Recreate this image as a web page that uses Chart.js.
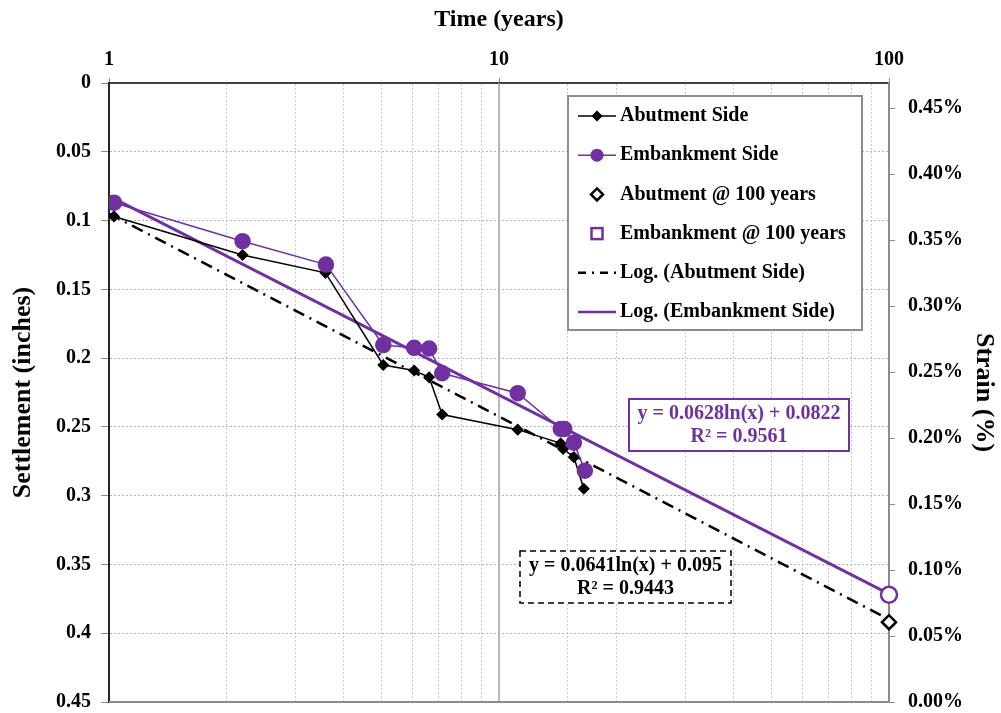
<!DOCTYPE html>
<html>
<head>
<meta charset="utf-8">
<script src="https://cdn.jsdelivr.net/npm/chart.js@4"></script>
<style>
  body { margin: 0; background: #fff; }
  #wrap { width: 1001px; height: 713px; }
</style>
</head>
<body>
<div id="wrap"><canvas id="settle" width="1001" height="713"></canvas></div>
<script>
// settlement vs time, log time axis on top
const abutYears = [1.03, 2.20, 3.59, 5.05, 6.06, 6.62, 7.15, 11.17, 14.4, 14.6, 15.56, 16.5];
const abutSettle = [0.097, 0.125, 0.138, 0.205, 0.209, 0.214, 0.241, 0.252, 0.262, 0.266, 0.272, 0.295];

const embYears = [1.03, 2.20, 3.60, 5.05, 6.06, 6.62, 7.15, 11.17, 14.4, 14.7, 15.56, 16.6];
const embSettle = [0.087, 0.115, 0.132, 0.1905, 0.1925, 0.193, 0.211, 0.2255, 0.2515, 0.2515, 0.2615, 0.2818];

const years100 = [100];
const abut100 = [0.392];
const emb100 = [0.372];

const trendYears = [1, 100];
const abutTrend = [0.095, 0.390];
const embTrend = [0.0822, 0.3714];

const strainTicks = [0, 0.05, 0.10, 0.15, 0.20, 0.25, 0.30, 0.35, 0.40, 0.45];
const timeLabels = [1, 10, 100];

const purple = '#7030A0';
const serif = 'Liberation Serif, Times New Roman, serif';

function pts(xs, ys) {
  return xs.map((x, i) => ({ x: x, y: ys[i] }));
}

const data = {
  datasets: [{
    label: 'Abutment Side',
    data: pts(abutYears, abutSettle),
    borderColor: '#000',
    backgroundColor: '#000',
    borderWidth: 1.5,
    pointStyle: 'rectRot',
    pointRadius: 5,
    order: 2
  }, {
    label: 'Embankment Side',
    data: pts(embYears, embSettle),
    borderColor: purple,
    backgroundColor: purple,
    borderWidth: 1.5,
    pointStyle: 'circle',
    pointRadius: 7.5,
    order: 1
  }, {
    label: 'Abutment @ 100 years',
    data: pts(years100, abut100),
    showLine: false,
    borderColor: '#000',
    backgroundColor: '#fff',
    pointStyle: 'rectRot',
    pointRadius: 7,
    pointBorderWidth: 2.5,
    clip: false,
    order: 0
  }, {
    label: 'Embankment @ 100 years',
    data: pts(years100, emb100),
    showLine: false,
    borderColor: purple,
    backgroundColor: '#fff',
    pointStyle: 'circle',
    pointRadius: 8,
    pointBorderWidth: 2.5,
    clip: false,
    order: 0
  }, {
    label: 'Log. (Abutment Side)',
    data: pts(trendYears, abutTrend),
    borderColor: '#000',
    borderWidth: 2.5,
    borderDash: [12, 6, 2, 6],
    pointRadius: 0,
    order: 4
  }, {
    label: 'Log. (Embankment Side)',
    data: pts(trendYears, embTrend),
    borderColor: purple,
    borderWidth: 3,
    pointRadius: 0,
    order: 3
  }]
};

// legend box + equation boxes + frame pieces
const extras = {
  id: 'extras',
  beforeDatasetsDraw(chart) {
    const ctx = chart.ctx, a = chart.chartArea;
    const x10 = chart.scales.x.getPixelForValue(10);
    ctx.save();
    ctx.strokeStyle = '#a6a6a6';
    ctx.lineWidth = 1.5;
    ctx.beginPath();
    ctx.moveTo(x10, a.top);
    ctx.lineTo(x10, a.bottom);
    ctx.stroke();
    // bottom edge of the plot
    ctx.strokeStyle = '#8c8c8c';
    ctx.lineWidth = 2;
    ctx.beginPath();
    ctx.moveTo(a.left, a.bottom);
    ctx.lineTo(a.right, a.bottom);
    ctx.stroke();
    ctx.restore();
  },
  afterDraw(chart) {
    const ctx = chart.ctx;
    ctx.save();
    // legend
    const lx = 568, ly = 96, lw = 294, lh = 234;
    ctx.fillStyle = '#fff';
    ctx.fillRect(lx, ly, lw, lh);
    ctx.strokeStyle = '#8c8c8c';
    ctx.lineWidth = 2;
    ctx.strokeRect(lx, ly, lw, lh);
    ctx.font = 'bold 20px ' + serif;
    ctx.textBaseline = 'middle';
    ctx.textAlign = 'left';
    chart.data.datasets.forEach((ds, i) => {
      const y = 116 + i * 39.2;
      const sx0 = 578, sx1 = 616, mx = 597;
      ctx.save();
      if (i === 0 || i === 1 || i === 4 || i === 5) {
        ctx.strokeStyle = ds.borderColor;
        ctx.lineWidth = (i === 4 || i === 5) ? 2.5 : 1.5;
        ctx.setLineDash(i === 4 ? [8, 6, 2, 6] : []);
        ctx.beginPath();
        ctx.moveTo(sx0, y);
        ctx.lineTo(sx1, y);
        ctx.stroke();
      }
      ctx.setLineDash([]);
      if (i === 0) {
        Chart.helpers.drawPoint(ctx, { pointStyle: 'rectRot', radius: 4.5, borderWidth: 1 }, mx, y);
        ctx.fillStyle = '#000';
        ctx.fill();
      } else if (i === 1) {
        ctx.fillStyle = purple;
        ctx.beginPath();
        ctx.arc(mx, y, 6.5, 0, Math.PI * 2);
        ctx.fill();
      } else if (i === 2) {
        ctx.strokeStyle = '#000';
        ctx.lineWidth = 2.5;
        ctx.beginPath();
        ctx.moveTo(mx, y - 6); ctx.lineTo(mx + 6, y); ctx.lineTo(mx, y + 6); ctx.lineTo(mx - 6, y);
        ctx.closePath();
        ctx.stroke();
      } else if (i === 3) {
        ctx.strokeStyle = purple;
        ctx.lineWidth = 2.5;
        ctx.strokeRect(mx - 5.5, y - 5.5, 11, 11);
      }
      ctx.restore();
      ctx.fillStyle = '#000';
      ctx.fillText(ds.label, 620, y);
    });

    // trend equation, embankment
    ctx.fillStyle = '#fff';
    ctx.fillRect(629, 399, 220, 52);
    ctx.strokeStyle = purple;
    ctx.lineWidth = 2;
    ctx.strokeRect(629, 399, 220, 52);
    ctx.fillStyle = purple;
    ctx.textAlign = 'center';
    ctx.fillText('y = 0.0628ln(x) + 0.0822', 739, 414);
    ctx.fillText('R\u00B2 = 0.9561', 739, 437);

    // trend equation, abutment
    ctx.fillStyle = '#fff';
    ctx.fillRect(520, 551, 211, 52);
    ctx.strokeStyle = '#000';
    ctx.lineWidth = 1.5;
    ctx.setLineDash([6, 4]);
    ctx.strokeRect(520, 551, 211, 52);
    ctx.setLineDash([]);
    ctx.fillStyle = '#000';
    ctx.fillText('y = 0.0641ln(x) + 0.095', 625.5, 566);
    ctx.fillText('R\u00B2 = 0.9443', 625.5, 589);
    ctx.restore();
  }
};

const tickFont = { family: serif, size: 20, weight: 'bold' };
const titleFont = { family: serif, size: 24, weight: 'bold' };
const sideTitleFont = { family: serif, size: 26, weight: 'bold' };

// keep the plot box fixed: no extra room for half tick labels
function fitSide(w) {
  return (s) => {
    s.width = w;
    s.paddingTop = 0;
    s.paddingBottom = 0;
  };
}

const config = {
  type: 'line',
  data,
  options: {
    responsive: false,
    animation: false,
    layout: { padding: { top: 0, left: 0, right: 0, bottom: 11 } },
    plugins: {
      legend: { display: false },
      tooltip: { enabled: false }
    },
    scales: {
      x: {
        type: 'logarithmic',
        position: 'top',
        min: 1,
        max: 100,
        afterFit: (s) => { s.height = 83; s.paddingLeft = 0; s.paddingRight = 0; },
        border: { color: '#404040', width: 2, dash: [2, 2] },
        grid: {
          color: '#c8c8c8',
          lineWidth: 1,
          drawTicks: true,
          tickLength: 5,
          tickColor: (c) => timeLabels.includes(c.tick && c.tick.value) ? '#8c8c8c' : 'rgba(0,0,0,0)',
          tickBorderDash: []
        },
        ticks: {
          autoSkip: false,
          maxRotation: 0,
          padding: 6,
          color: '#000',
          font: tickFont,
          callback: (v) => timeLabels.includes(v) ? String(v) : ''
        },
        title: {
          display: true,
          text: 'Time (years)',
          color: '#000',
          font: titleFont,
          padding: { top: 5, bottom: 0 }
        }
      },
      y: {
        position: 'left',
        reverse: true,
        min: 0,
        max: 0.45,
        afterFit: fitSide(109),
        border: { color: '#262626', width: 2, dash: [2, 2] },
        grid: {
          color: '#b4b4b4',
          lineWidth: 1,
          tickLength: 8,
          tickColor: '#8c8c8c',
          tickBorderDash: []
        },
        ticks: {
          stepSize: 0.05,
          padding: 10,
          color: '#000',
          font: tickFont,
          callback: (v) => String(parseFloat(Number(v).toFixed(2)))
        },
        title: {
          display: true,
          text: 'Settlement (inches)',
          color: '#000',
          font: sideTitleFont,
          padding: { top: 8, bottom: 0 }
        }
      },
      y2: {
        position: 'right',
        min: 0,
        max: 0.469,
        afterFit: fitSide(112),
        afterBuildTicks: (s) => { s.ticks = strainTicks.map(v => ({ value: v })); },
        border: { color: '#8c8c8c', width: 2 },
        grid: {
          drawOnChartArea: false,
          tickLength: 6,
          tickColor: '#8c8c8c'
        },
        ticks: {
          padding: 13,
          color: '#000',
          font: tickFont,
          callback: (v) => Number(v).toFixed(2) + '%'
        },
        title: {
          display: true,
          text: 'Strain (%)',
          color: '#000',
          font: sideTitleFont,
          padding: { top: 2, bottom: 0 }
        }
      }
    }
  },
  plugins: [extras]
};

const settleChart = new Chart(document.getElementById('settle'), config);
</script>
</body>
</html>
